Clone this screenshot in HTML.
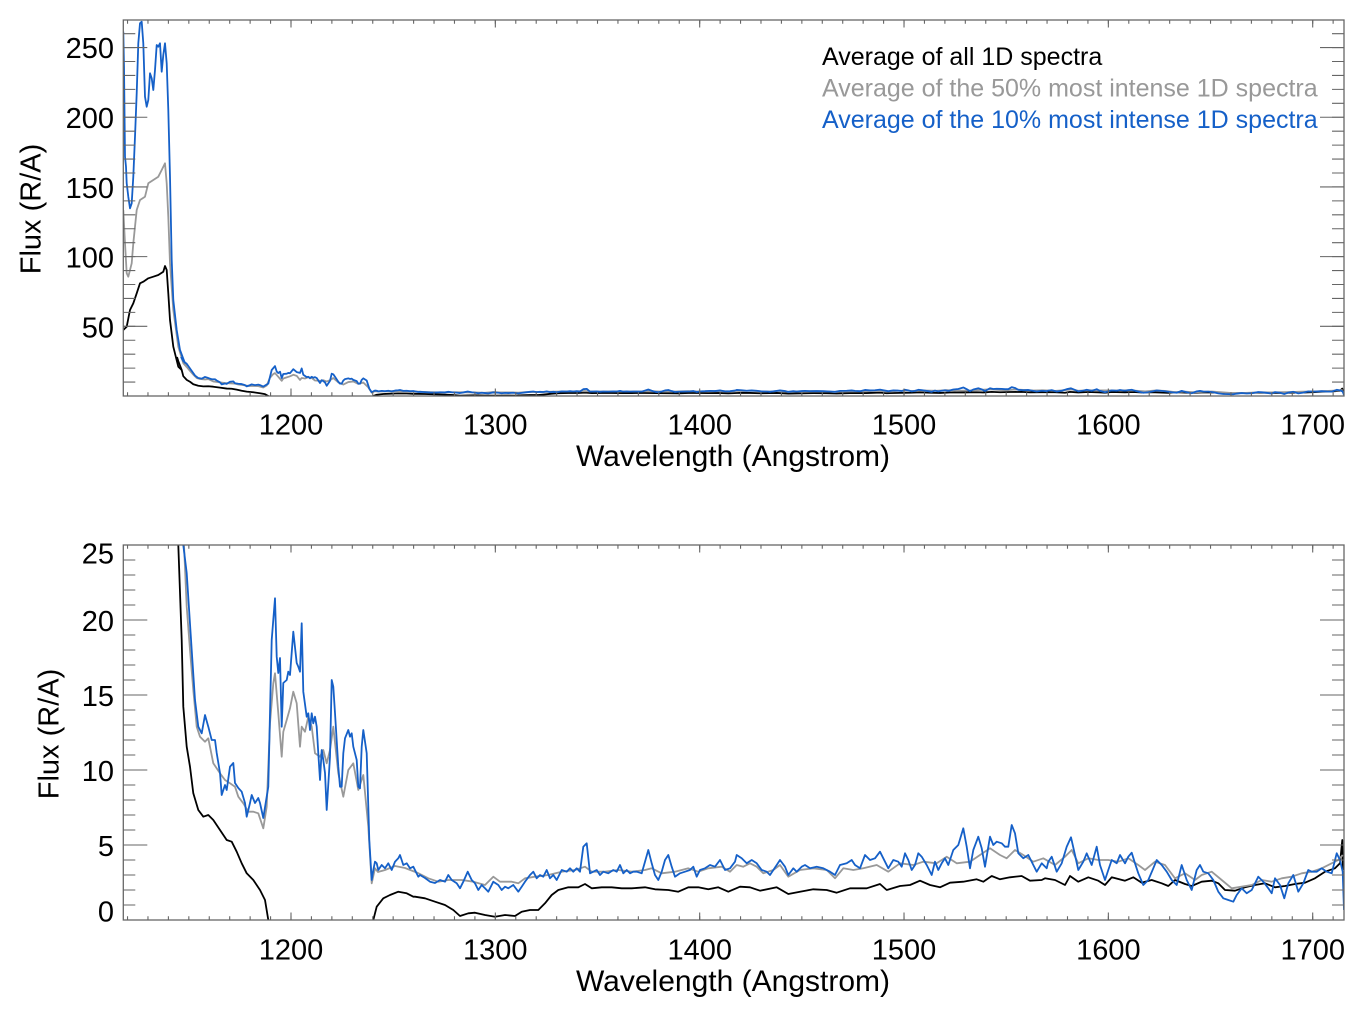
<!DOCTYPE html>
<html>
<head>
<meta charset="utf-8">
<style>
html,body{margin:0;padding:0;background:#fff;}
svg{display:block;}
text{font-family:"Liberation Sans",Arial,sans-serif;}
</style>
</head>
<body>
<svg width="1365" height="1018" viewBox="0 0 1365 1018" xmlns="http://www.w3.org/2000/svg">
<defs>
<clipPath id="cTop"><rect x="123.3" y="20" width="1220.7" height="376"/></clipPath>
<clipPath id="cBot"><rect x="123.3" y="545" width="1220.7" height="375"/></clipPath>

<polyline id="pBlue" fill="none" stroke="#1560c8" stroke-width="1.8" stroke-linejoin="round" vector-effect="non-scaling-stroke" points="181,500 183.3,545 186.7,573 191.7,650 195,700 198.3,726.7 201.7,733.3 205,715 208.3,726.7 211.7,740 215,740 216.7,753 220,773 221.7,795 225,785 226.7,790 230,766.7 233.3,763 235,783 238.3,788 241.7,791.7 245,803 246.7,816.7 250,803 251.7,795 255,803 258.3,798 260,803 263.3,818 266.7,796.7 268.3,786.7 271.7,640 275,598.3 276.7,656.7 278.3,673 280,658 281.7,726.7 283.3,683 286.7,680 288.3,671.7 290,675 293.3,631.7 296.7,663 298.3,666.7 300,671.7 301.7,623.3 303.3,691.7 306.7,716.7 308.3,713.3 310,730 311.7,713.3 313.3,723.3 315,716.7 316.7,726.7 318.3,753.3 320,780 321.7,750 323.3,760 325,773 326.7,810 330,756.7 331.7,680 333.3,686.7 335,713 338.3,766.7 340,786.7 341.7,786.7 343.3,753.3 345,738.3 348.3,730 350,736.7 351.7,733.3 353.3,746.7 356.7,760 358.3,786.7 360,788.3 361.7,746.7 363.3,730 366.7,753.3 369.3,840 371.7,880 373.3,870 375,861.7 376.7,863.3 378.3,870 381.7,865 385,868.3 388.3,863.3 391.7,870 395,861.7 398.3,858.3 400,855 403.3,865 406.7,863.3 410,868.3 413.3,866.7 418.3,876.7 420,875 425,878 430,881.7 435,883 440,880 445,881.7 448.3,875 451.7,880 456.7,883.3 460,888.3 463.3,881.7 467.7,871.7 471.7,880 475,883.3 478.3,890 481.7,885 485,888.3 488.3,891.7 493.3,881.7 498.3,885 501.7,890 505,886.7 508.3,888.3 513.3,885 518.3,891.7 521.7,886.7 525,881.7 530,875 533.3,871.7 536.7,878.3 540,875 543.3,876.7 546.7,870 550,878.3 553.3,875 556.7,880 561.7,870 566.7,871.7 570,868.3 573.3,871.7 576.7,868.3 580,871.7 583.3,846.7 586.7,843.3 590,873.3 593.3,871.7 596.7,870 600,875 603.3,871.7 608.3,873.3 613.3,870 616.7,871.7 620,865 623.3,873.3 626.7,870 630,873.3 633.3,871.7 636.7,871.7 641.7,873.3 645,861.7 648.3,850 651.7,863.3 655,875 658.3,880 661.7,871.7 665,860 668.3,855 671.7,866.7 675,876.7 680,873.3 685,871.7 690,870 693.3,866.7 696.7,876.7 700,870 705,868.3 710,865 715,866.7 720,860 725,870 730,868.3 735,861.7 736.7,855 741.7,858.3 746.7,863.3 751.7,860 756.7,863.3 761.7,870 766.7,871.7 770,875 776.7,865 780,860 785,866.7 788.3,875 793.3,868.3 796.7,871.7 801.7,866.7 805,865 810,868.3 816.7,866.7 823.3,868.3 830,871.7 835,875 840,865 846.7,863.3 851.7,860 855,865 860,868.3 865,855 870,860 875,858.3 880,851.7 883.3,858.3 888.3,868.3 893.3,860 898.3,861.7 901.7,866.7 905,853.3 908.3,860 911.7,870 915,865 918.3,853.3 921.7,856.7 926.7,865 931.7,875 935,861.7 938.3,870 941.7,863.3 945,858.3 948.3,865 953.3,850 958.3,845 963.3,828.3 966.7,846.7 970,868.3 973.3,850 978.3,836.7 981.7,848.3 985,866.7 990,836.7 993.3,845 996.7,841.7 1001.7,843.3 1005,846.7 1008.3,846.7 1011.7,825 1015,833.3 1018.3,853.3 1023.3,858.3 1028.3,855 1033.3,865 1036.7,871.7 1041.7,863.3 1046.7,868.3 1048.3,861.7 1051.7,856.7 1056.7,871.7 1061.7,863.3 1066.7,846.7 1071,837.3 1075,855 1078.3,870 1083.3,861.7 1086.7,853.3 1091.7,865 1096.7,846.7 1100,865 1105,880 1108.3,870 1111.7,860 1116.7,863.3 1120,855 1125,863.3 1128.3,856.7 1131.7,852.7 1135,863.3 1138.3,873.3 1143.3,885 1148.3,880 1153.3,868.3 1156.7,860 1161.7,865 1166.7,871.7 1171.7,880 1176.7,885 1181.7,865 1186.7,880 1191.7,890 1196.7,870 1200,865 1203.3,871.7 1208.3,873.3 1213.3,880 1218.3,891.7 1223.3,898.3 1228.3,900 1233.3,901.7 1236.7,895 1241.7,888.3 1246.7,893.3 1251.7,890 1258.3,876.7 1263.3,881.7 1268.3,888.3 1271.7,893.3 1275,878.3 1280,885 1284.3,898.3 1288.3,883.3 1293.3,875 1298.3,891.7 1303.3,883.3 1308.3,870 1311.7,871.7 1316.7,871.7 1321.7,868.3 1326.7,871.7 1331.7,873.3 1336.7,853.3 1340,860 1342.7,871.7 1344,910"/>

<polyline id="pGray" fill="none" stroke="#999999" stroke-width="1.8" stroke-linejoin="round" vector-effect="non-scaling-stroke" points="182,500 184,545 186.7,606.7 190,650 193.3,690 196.7,726.7 200,736.7 205,741.7 208.3,738.3 213.3,763.3 220,773.3 225,780 230,783.3 235,786.7 238.3,796.7 243.3,803.3 248.3,811.7 253.3,811.7 258.3,813.3 263.3,828.3 266.7,806.7 270,723.3 273.3,683.3 275,673.3 278.3,713.3 281.7,756.7 283.3,731.7 286.7,720 290,708.3 293.3,691.7 296.7,703.3 300,746.7 301.7,726.7 305,731.7 308.3,716.7 311.7,726.7 315,753.3 320,756.7 323.3,750 326.7,763.3 330,750 333.3,726.7 338.3,773.3 343.3,796.7 348.3,770 353.3,763.3 358.3,790 363.3,775 368.3,826.7 371.7,883.3 375,868.3 378,872 385,870 395,866 405,868 418,873 428.3,878.3 438.3,881.7 448.3,880 461.7,880 473.3,881.7 485,885 493.3,876.7 500,881.7 511.7,881.7 518.3,883.3 525,878.3 535,876.7 548.3,875 561.7,871.7 575,870 585,866.7 591.7,871.7 605,871.7 618.3,870 631.7,871.7 645,870 651.7,868.3 661.7,873.3 675,871.7 688.3,868.3 698.3,871.7 708.3,868.3 721.7,866.7 730,871.7 736.7,865 743.3,866.7 750,863.3 756.7,866.7 763.3,873.3 773.3,870 780,865 788.3,876.7 800,870 813.3,868.3 826.7,870 835,878.3 843.3,868.3 853.3,870 863.3,868.3 876.7,865 888.3,871.7 900,863.3 913.3,865 923.3,861.7 936.7,863.3 946.7,856.7 956.7,863.3 970,861.7 980,855 990,848.3 1000,855 1006.7,858.3 1015,850 1023.3,855 1033.3,861.7 1043.3,858.3 1055,865 1065,856.7 1071.7,850 1078.3,863.3 1088.3,858.3 1098.3,860 1108.3,860 1118.3,861.7 1128.3,858.3 1138.3,865 1145,870 1155,861.7 1165,865 1175,878.3 1185,873.3 1195,880 1201.7,875 1211.7,871.7 1221.7,880 1231.7,888.3 1241.7,886.7 1251.7,885 1261.7,880 1271.7,881.7 1281.7,878.3 1291.7,876.7 1301.7,873.3 1311.7,871.7 1321.7,868.3 1331.7,863.3 1338.3,860 1342.7,855"/>

<polyline id="pBlack" fill="none" stroke="#000000" stroke-width="1.8" stroke-linejoin="round" vector-effect="non-scaling-stroke" points="177,500 178.3,545 181.7,640 183.3,706.7 186.7,746.7 190,766.7 193.3,793.3 198.3,810 203.3,816.7 208.3,815 213.3,820 220,830 226.7,840 231.7,841.7 236.7,851.7 241.7,863.3 246.7,873.3 253.3,880 260,890 265,900 268.3,920 270,935 372,935 373.3,920 376.7,906.7 383.3,898.3 390,895 398.3,891.7 406.7,893.3 413.3,896.7 415,896.7 425,898.3 435,901.7 445,905 453.3,910 460,916 468.3,913.3 475,912.7 485,915 495,916.7 505,915 515,916 521.7,911.7 530,910 538.3,910 545,903.3 551.7,895 558.3,890 568.3,887.3 578.3,887.3 585,884 591.7,888.3 601.7,887.3 611.7,887.3 621.7,888.3 631.7,888.3 645,887.3 655,889.3 668.3,890 678.3,891.7 688.3,887.3 698.3,887.3 708.3,889.3 718.3,887.3 728.3,891.7 740,886.7 750,887.3 760,890.7 776.7,887.3 788.3,894 800,891.7 813.3,889.3 826.7,890 836.7,892.7 850,888.3 866.7,888.3 880,884 886.7,890 900,886 910,885 920,880.7 930,885 940,887.3 950,882.7 963.3,881.7 976.7,879.3 983.3,881.7 991.7,876 1000,879.3 1010,877.3 1021.7,876 1030,880.7 1041.7,880 1045,878.3 1055,880 1065,885 1070,876 1078.3,881.7 1088.3,877.3 1098.3,880.7 1105,885 1111.7,877.3 1125,880.7 1133.3,877.3 1141.7,882.7 1151.7,880 1161.7,883.3 1168.3,886 1175,880 1185,884 1191.7,886 1201.7,881.7 1211.7,880.7 1218.3,883.3 1225,890 1235,890.7 1245,887.3 1255,885 1265,883.3 1275,887.3 1285,886 1295,884 1305,882.7 1315,878.3 1325,871.7 1335,868.3 1340,863.3 1342.3,840 1343,870"/>
</defs>

<rect x="0" y="0" width="1365" height="1018" fill="#fff"/>

<!-- ================= TOP PANEL ================= -->
<g clip-path="url(#cTop)">
  <polyline fill="none" stroke="#000" stroke-width="1.8" stroke-linejoin="round" points="123.3,330 126.7,326.7 130,310 133.3,303.3 136.7,293.3 140,283.3 143.3,281.7 148.3,278.3 153.3,276.7 158.3,275 163.3,271.7 165,266 166.7,270 168.3,293.3 170,320 173.3,346.7 178.3,366.7 181.7,370"/>
  <use href="#pBlack" transform="matrix(1,0,0,0.09291,0,310.52)"/>
  <polyline fill="none" stroke="#999999" stroke-width="1.8" stroke-linejoin="round" points="123.3,210 125,243.3 126.7,273.3 128.3,276.7 131.7,263.3 133.3,243.3 136.7,210 140,200 145,196.7 148.3,183.3 153.3,180 158.3,176.7 161.7,170 165,163.3 166.7,183.3 168.3,216.7 170,263.3 173.3,310 178.3,346.7 183.3,363.3 186.7,367"/>
  <use href="#pGray" transform="matrix(1,0,0,0.09291,0,310.52)"/>
  <polyline fill="none" stroke="#1560c8" stroke-width="1.8" stroke-linejoin="round" points="123.3,31.7 124,66.7 125,156.7 126,166.7 126.7,183.3 128.3,196.7 130,208.3 131.7,203.3 133.3,176.7 135,136.7 136.7,93.3 138.3,43.3 140,23.3 141.7,21.7 143.3,43.3 145,96.7 146.7,106.7 148.3,100 150,73.3 151.7,78.3 153.3,90 155,70 156.7,45 158.3,46.7 160,43.3 161.7,71.7 163.3,55 165,43.3 166.7,63.3 168.3,110 170,176.7 171.7,260 173.3,300 176.7,330 180,350 185,363.3"/>
  <use href="#pBlue" transform="matrix(1,0,0,0.09291,0,310.52)"/>
</g>

<g stroke="#666" fill="none">
  <line x1="126.98" y1="394.125" x2="1344" y2="394.125" stroke-width="3.75" stroke-dasharray="1.1 19.334"/>
  <line x1="126.98" y1="21.875" x2="1344" y2="21.875" stroke-width="3.75" stroke-dasharray="1.1 19.334"/>
  <line x1="290.45" y1="392.25" x2="1344" y2="392.25" stroke-width="7.5" stroke-dasharray="1.1 203.24"/>
  <line x1="290.45" y1="23.75" x2="1344" y2="23.75" stroke-width="7.5" stroke-dasharray="1.1 203.24"/>
  <line x1="129.3" y1="396.55" x2="129.3" y2="20" stroke-width="12" stroke-dasharray="1.1 12.837"/>
  <line x1="1338" y1="396.55" x2="1338" y2="20" stroke-width="12" stroke-dasharray="1.1 12.837"/>
  <line x1="135.3" y1="396.55" x2="135.3" y2="20" stroke-width="24" stroke-dasharray="1.1 68.585"/>
  <line x1="1332" y1="396.55" x2="1332" y2="20" stroke-width="24" stroke-dasharray="1.1 68.585"/>
  <rect x="123.3" y="20" width="1220.7" height="376" stroke-width="1.3"/>
</g>

<g font-size="29" fill="#000" text-anchor="end">
  <text x="114" y="58.2">250</text>
  <text x="114" y="128">200</text>
  <text x="114" y="197.8">150</text>
  <text x="114" y="267.6">100</text>
  <text x="114" y="337.3">50</text>
</g>
<g font-size="29" fill="#000" text-anchor="middle">
  <text x="291" y="434.5">1200</text>
  <text x="495.3" y="434.5">1300</text>
  <text x="699.7" y="434.5">1400</text>
  <text x="904" y="434.5">1500</text>
  <text x="1108.4" y="434.5">1600</text>
  <text x="1312.7" y="434.5">1700</text>
  <text x="733" y="466" font-size="30">Wavelength (Angstrom)</text>
  <text transform="translate(40.7,209) rotate(-90)" x="0" y="0">Flux (R/A)</text>
</g>

<g font-size="25">
  <text x="822" y="65" fill="#000">Average of all 1D spectra</text>
  <text x="822" y="96.5" fill="#999999">Average of the 50% most intense 1D spectra</text>
  <text x="822" y="128" fill="#1560c8">Average of the 10% most intense 1D spectra</text>
</g>

<!-- ================= BOTTOM PANEL ================= -->
<g clip-path="url(#cBot)">
  <use href="#pBlack"/>
  <use href="#pGray"/>
  <use href="#pBlue"/>
</g>

<g stroke="#666" fill="none">
  <line x1="126.98" y1="918.125" x2="1344" y2="918.125" stroke-width="3.75" stroke-dasharray="1.1 19.334"/>
  <line x1="126.98" y1="546.875" x2="1344" y2="546.875" stroke-width="3.75" stroke-dasharray="1.1 19.334"/>
  <line x1="290.45" y1="916.25" x2="1344" y2="916.25" stroke-width="7.5" stroke-dasharray="1.1 203.24"/>
  <line x1="290.45" y1="548.75" x2="1344" y2="548.75" stroke-width="7.5" stroke-dasharray="1.1 203.24"/>
  <line x1="129.3" y1="920.55" x2="129.3" y2="545" stroke-width="12" stroke-dasharray="1.1 13.9"/>
  <line x1="1338" y1="920.55" x2="1338" y2="545" stroke-width="12" stroke-dasharray="1.1 13.9"/>
  <line x1="135.3" y1="920.55" x2="135.3" y2="545" stroke-width="24" stroke-dasharray="1.1 73.9"/>
  <line x1="1332" y1="920.55" x2="1332" y2="545" stroke-width="24" stroke-dasharray="1.1 73.9"/>
  <rect x="123.3" y="545" width="1220.7" height="375" stroke-width="1.3"/>
</g>

<g font-size="29" fill="#000" text-anchor="end">
  <text x="114" y="563.5">25</text>
  <text x="114" y="631.2">20</text>
  <text x="114" y="706.2">15</text>
  <text x="114" y="781.2">10</text>
  <text x="114" y="856.2">5</text>
  <text x="114" y="921.5">0</text>
</g>
<g font-size="29" fill="#000" text-anchor="middle">
  <text x="291" y="959.5">1200</text>
  <text x="495.3" y="959.5">1300</text>
  <text x="699.7" y="959.5">1400</text>
  <text x="904" y="959.5">1500</text>
  <text x="1108.4" y="959.5">1600</text>
  <text x="1312.7" y="959.5">1700</text>
  <text x="733" y="991" font-size="30">Wavelength (Angstrom)</text>
  <text transform="translate(58.5,734) rotate(-90)" x="0" y="0">Flux (R/A)</text>
</g>
</svg>
</body>
</html>
